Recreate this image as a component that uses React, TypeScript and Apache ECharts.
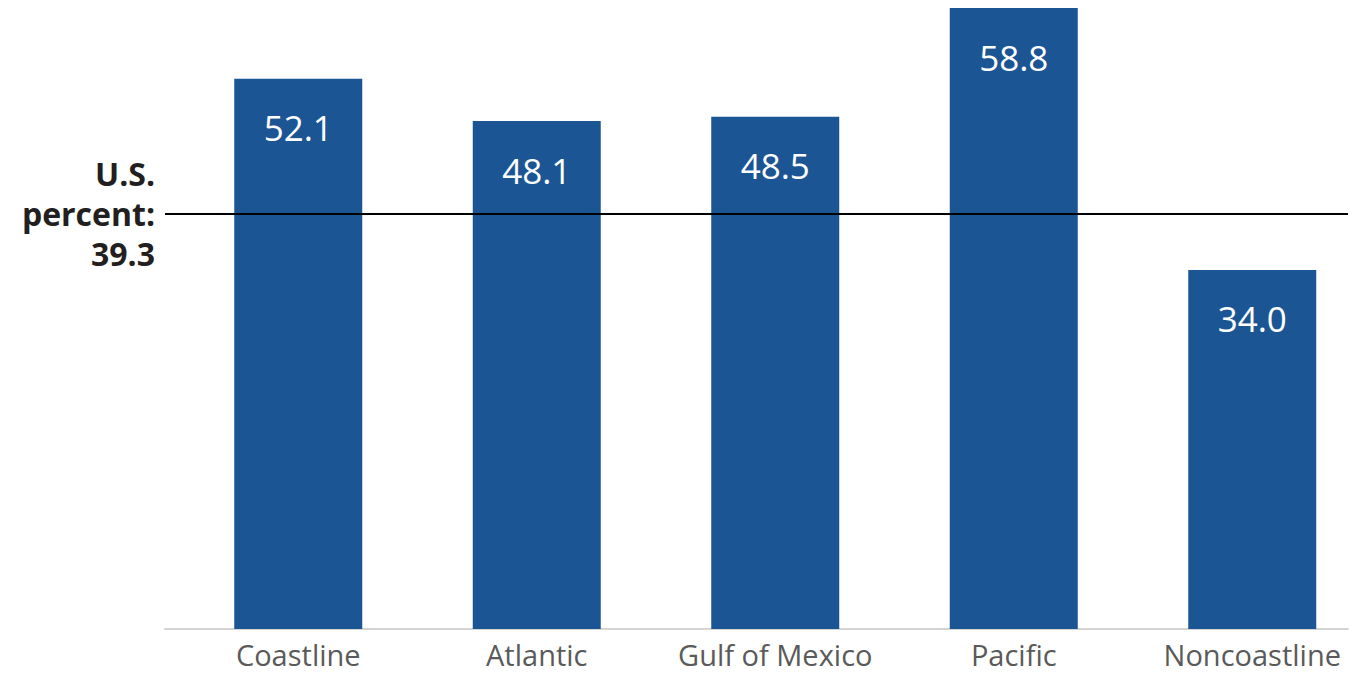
import React, { useEffect, useRef } from "react";
import * as echarts from "echarts";

const categories = ["Coastline", "Atlantic", "Gulf of Mexico", "Pacific", "Noncoastline"];
const values = [52.1, 48.1, 48.5, 58.8, 34.0];
const usPercent = 39.3;
const refLabel = ["U.S.", "percent:", "39.3"];

const FONT = "'Open Sans', 'Noto Sans', sans-serif";

export default function App() {
  const ref = useRef<HTMLDivElement>(null);
  useEffect(() => {
    if (!ref.current) return;
    const chart = echarts.init(ref.current, null, { renderer: "svg" });
    chart.setOption({
      animation: false,
      backgroundColor: "#ffffff",
      grid: [
        { left: 179, top: 8, width: 1192.5, height: 621 },
        { left: 165, top: 8, width: 1183, height: 621 },
      ],
      xAxis: [
        {
          type: "category",
          gridIndex: 0,
          data: categories,
          axisLine: { show: false },
          axisTick: { show: false },
          axisLabel: {
            color: "#5a5a5a",
            fontSize: 29,
            lineHeight: 26,
            fontFamily: FONT,
            margin: 12,
            interval: 0,
          },
        },
        {
          type: "value",
          gridIndex: 1,
          min: 0,
          max: 1,
          axisLine: { show: true, lineStyle: { color: "#d4d4d4", width: 2 } },
          axisTick: { show: false },
          axisLabel: { show: false },
          splitLine: { show: false },
        },
      ],
      yAxis: [
        { type: "value", gridIndex: 0, min: 0, max: 58.8, show: false, splitLine: { show: false } },
        { type: "value", gridIndex: 1, min: 0, max: 58.8, show: false, splitLine: { show: false } },
      ],
      series: [
        {
          type: "bar",
          xAxisIndex: 0,
          yAxisIndex: 0,
          data: values,
          barWidth: 128,
          itemStyle: { color: "#1c5594" },
          label: {
            show: true,
            position: "insideTop",
            distance: 31.5,
            color: "#ffffff",
            fontSize: 35,
            fontFamily: FONT,
            formatter: (p: any) => p.value.toFixed(1),
          },
        },
        {
          type: "line",
          xAxisIndex: 1,
          yAxisIndex: 1,
          data: [
            {
              value: [0, usPercent],
              label: {
                show: true,
                position: "left",
                distance: 10,
                align: "right",
                verticalAlign: "middle",
                formatter: refLabel.join("\n"),
                color: "#231f20",
                fontSize: 32,
                fontWeight: "bold",
                lineHeight: 40,
                fontFamily: FONT,
              },
            },
            [1, usPercent],
          ],
          symbol: "circle",
          symbolSize: 0,
          showSymbol: true,
          lineStyle: { color: "#000000", width: 2 },
          itemStyle: { color: "#000000" },
          z: 5,
        },
      ],
    });
    return () => chart.dispose();
  }, []);
  return (
    <div
      style={{ position: "absolute", left: 0, top: 0, width: 1361, height: 675, overflow: "hidden" }}
    >
      <div ref={ref} style={{ width: 1400, height: 675 }} />
    </div>
  );
}
